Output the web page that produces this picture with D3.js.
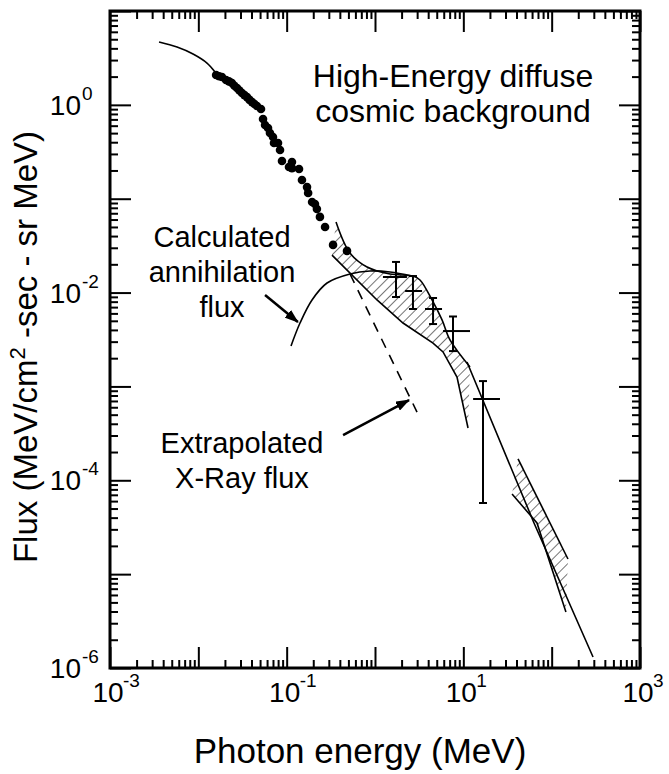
<!DOCTYPE html>
<html>
<head>
<meta charset="utf-8">
<script src="https://cdn.jsdelivr.net/npm/d3@7"></script>
<style>
  body { margin: 0; background: #fff; }
  text { font-family: "Liberation Sans", Arial, Helvetica, sans-serif; fill: #000; }
</style>
</head>
<body>
<svg id="chart"></svg>
<script>
// photon energy in MeV, flux in MeV/cm2-sec-sr MeV
const yLabelExps = [0, -2, -4, -6];
const xLabelExps = [-3, -1, 1, 3];

const lowEnergyCurve = [[0.00359, 4.68], [0.00574, 4.13], [0.00871, 3.48], [0.01253, 2.79], [0.01545, 2.24]];

const backgroundDots = [
  [0.0159, 2.08], [0.0172, 2.02], [0.0185, 1.98], [0.0206, 1.84], [0.0222, 1.78], [0.0240, 1.71],
  [0.0256, 1.60], [0.0274, 1.51], [0.0292, 1.42], [0.0312, 1.34], [0.0333, 1.27], [0.0356, 1.21],
  [0.0380, 1.13], [0.0406, 1.07], [0.0432, 1.02], [0.0461, 0.973], [0.0512, 0.904],
  [0.0540, 0.706], [0.0569, 0.609], [0.0615, 0.566], [0.0647, 0.501], [0.0700, 0.454],
  [0.0719, 0.393], [0.0798, 0.393], [0.0841, 0.330], [0.0885, 0.252], [0.1148, 0.246],
  [0.1062, 0.218], [0.1148, 0.212], [0.138, 0.207], [0.149, 0.158], [0.170, 0.133],
  [0.175, 0.115], [0.194, 0.0923], [0.209, 0.0879], [0.220, 0.0778], [0.238, 0.0640],
  [0.272, 0.0500], [0.335, 0.0322], [0.482, 0.0278]
];

const annihilationCurve = [
  [0.112, 0.00270], [0.1416, 0.00474], [0.1936, 0.00834], [0.2864, 0.01265],
  [0.521, 0.01578], [0.877, 0.01698], [1.479, 0.01656], [2.62, 0.0150]
];

const xrayExtrapolation = [[0.521, 0.01578], [2.99, 5.33e-4]];

const bandUpper = [
  [0.362, 0.0565], [0.521, 0.02636], [0.813, 0.01871], [1.479, 0.01578], [2.69, 0.0150],
  [3.23, 0.01362], [4.42, 0.00834], [5.74, 0.00511], [7.06, 0.00313], [11.9, 0.00161]
];
const bandLower = [
  [0.326, 0.0251], [1.054, 0.00834], [2.076, 0.00474], [4.54, 0.00290], [5.89, 0.00233],
  [8.48, 0.00126], [11.3, 0.000361]
];

const highBandA = [[41.6, 1.69e-4], [153, 1.45e-5]];
const highBandC = [[35.6, 7.14e-5], [68.2, 3.51e-5], [145, 3.95e-6]];

const powerLaw = [[11.0, 0.00182], [63.1, 3.51e-5], [294, 1.31e-6]];

const errX = [1.73, 2.69, 4.54, 7.64, 16.7];
const errXLow = [1.23, 2.19, 3.68, 5.89, 12.9];
const errXHigh = [2.30, 3.41, 5.74, 11.9, 26.0];
const errY = [0.01466, 0.0104, 0.00668, 0.00389, 7.35e-4];
const errYLow = [0.00897, 0.00668, 0.00462, 0.00238, 5.73e-5];
const errYHigh = [0.0212, 0.0150, 0.00875, 0.00556, 1.14e-3];

const W = 669, H = 774;
const margin = { top: 11, right: 29, bottom: 106, left: 110 };
const width = W - margin.left - margin.right;
const height = H - margin.top - margin.bottom;

const svg = d3.select("#chart").attr("width", W).attr("height", H);

const defs = svg.append("defs");
defs.append("pattern")
  .attr("id", "hatch")
  .attr("patternUnits", "userSpaceOnUse")
  .attr("width", 7)
  .attr("height", 7)
  .attr("patternTransform", "rotate(45)")
  .append("line")
  .attr("x1", 0).attr("y1", 0).attr("x2", 0).attr("y2", 7)
  .attr("stroke", "#000").attr("stroke-width", 1.1);

defs.append("marker")
  .attr("id", "arrow")
  .attr("markerUnits", "userSpaceOnUse")
  .attr("viewBox", "0 0 14 10")
  .attr("markerWidth", 14)
  .attr("markerHeight", 10)
  .attr("refX", 13)
  .attr("refY", 5)
  .attr("orient", "auto")
  .append("path")
  .attr("d", "M0,0 L14,5 L0,10 Z")
  .attr("fill", "#000");

const g = svg.append("g").attr("transform", `translate(${margin.left},${margin.top})`);

const x = d3.scaleLog().domain([1e-3, 1e3]).range([0, width]);
const y = d3.scaleLog().domain([1e-6, 10]).range([height, 0]);

const isPow10 = (d) => Math.abs(Math.log10(d) - Math.round(Math.log10(d))) < 1e-9;
const xMajor = x.ticks().filter(isPow10);
const xMinor = x.ticks().filter((d) => !isPow10(d));
const yMajor = y.ticks().filter(isPow10);
const yMinor = y.ticks().filter((d) => !isPow10(d));

// ticks point inward on all four sides
function tickGroup(axis, transform) {
  const a = g.append("g").attr("transform", transform).call(axis);
  a.select(".domain").remove();
  a.selectAll(".tick line").attr("stroke", "#000").attr("stroke-width", 2);
  return a;
}
const minorLen = 8, majorLen = 21;
tickGroup(d3.axisBottom(x).tickValues(xMinor).tickSize(-minorLen).tickFormat(""), `translate(0,${height})`);
tickGroup(d3.axisBottom(x).tickValues(xMajor).tickSize(-majorLen).tickFormat(""), `translate(0,${height})`);
tickGroup(d3.axisTop(x).tickValues(xMinor).tickSize(-minorLen).tickFormat(""), "translate(0,0)");
tickGroup(d3.axisTop(x).tickValues(xMajor).tickSize(-majorLen).tickFormat(""), "translate(0,0)");
tickGroup(d3.axisLeft(y).tickValues(yMinor).tickSize(-minorLen).tickFormat(""), "translate(0,0)");
tickGroup(d3.axisLeft(y).tickValues(yMajor).tickSize(-majorLen).tickFormat(""), "translate(0,0)");
tickGroup(d3.axisRight(y).tickValues(yMinor).tickSize(-minorLen).tickFormat(""), `translate(${width},0)`);
tickGroup(d3.axisRight(y).tickValues(yMajor).tickSize(-majorLen).tickFormat(""), `translate(${width},0)`);

g.append("rect")
  .attr("width", width)
  .attr("height", height)
  .attr("fill", "none")
  .attr("stroke", "#000")
  .attr("stroke-width", 3);

// tick labels with superscript exponents
yLabelExps.forEach((e) => {
  const py = y(Math.pow(10, e));
  g.append("text").attr("x", -29).attr("y", py + 10)
    .attr("text-anchor", "end").style("font-size", "28px").text("10");
  g.append("text").attr("x", -28).attr("y", py - 5)
    .style("font-size", "19px").text(e);
});
xLabelExps.forEach((e) => {
  const px = x(Math.pow(10, e));
  g.append("text").attr("x", px - 2).attr("y", height + 34)
    .attr("text-anchor", "middle").style("font-size", "28px").text("10");
  g.append("text").attr("x", px + 13).attr("y", height + 19)
    .style("font-size", "19px").text(e);
});

// axis titles
svg.append("text")
  .attr("x", 360)
  .attr("y", 763)
  .attr("text-anchor", "middle")
  .style("font-size", "35px")
  .text("Photon energy (MeV)");

const yTitle = svg.append("text")
  .attr("transform", "translate(37,347) rotate(-90)")
  .attr("text-anchor", "middle")
  .style("font-size", "33px");
yTitle.append("tspan").text("Flux (MeV/cm");
yTitle.append("tspan").attr("dy", -12).style("font-size", "22px").text("2");
yTitle.append("tspan").attr("dy", 12).text(" -sec - sr MeV)");

const line = d3.line().x((d) => x(d[0])).y((d) => y(d[1]));
const smooth = d3.line().x((d) => x(d[0])).y((d) => y(d[1])).curve(d3.curveCatmullRom);

// hatched uncertainty bands
const bandPath = smooth(bandUpper) + "L" + line(bandLower.slice().reverse()).slice(1) + "Z";
g.append("path").attr("d", bandPath).attr("fill", "url(#hatch)").attr("stroke", "none");
g.append("path").attr("d", line(highBandA.concat(highBandC.slice().reverse())) + "Z")
  .attr("fill", "url(#hatch)").attr("stroke", "none");

const strokes = [
  smooth(bandUpper), line(bandLower), line(highBandA), line(highBandC),
  line(powerLaw), smooth(lowEnergyCurve), smooth(annihilationCurve)
];
g.selectAll(".curve")
  .data(strokes)
  .join("path")
  .attr("class", "curve")
  .attr("d", (d) => d)
  .attr("fill", "none")
  .attr("stroke", "#000")
  .attr("stroke-width", 1.6);

g.append("path")
  .attr("d", line(xrayExtrapolation))
  .attr("fill", "none")
  .attr("stroke", "#000")
  .attr("stroke-width", 1.6)
  .attr("stroke-dasharray", "10,8");

g.selectAll(".dot")
  .data(backgroundDots)
  .join("circle")
  .attr("class", "dot")
  .attr("cx", (d) => x(d[0]))
  .attr("cy", (d) => y(d[1]))
  .attr("r", 4.3)
  .attr("fill", "#000");

// error bar crosses
const errs = errX.map((v, i) => ({ x: v, xl: errXLow[i], xh: errXHigh[i], y: errY[i], yl: errYLow[i], yh: errYHigh[i] }));
const eb = g.selectAll(".err").data(errs).join("g").attr("class", "err")
  .attr("stroke", "#000").attr("stroke-width", 2);
eb.append("line").attr("x1", (d) => x(d.x)).attr("x2", (d) => x(d.x))
  .attr("y1", (d) => y(d.yl)).attr("y2", (d) => y(d.yh));
eb.append("line").attr("x1", (d) => x(d.xl)).attr("x2", (d) => x(d.xh))
  .attr("y1", (d) => y(d.y)).attr("y2", (d) => y(d.y));
eb.append("line").attr("x1", (d) => x(d.x) - 4).attr("x2", (d) => x(d.x) + 4)
  .attr("y1", (d) => y(d.yl)).attr("y2", (d) => y(d.yl));
eb.append("line").attr("x1", (d) => x(d.x) - 4).attr("x2", (d) => x(d.x) + 4)
  .attr("y1", (d) => y(d.yh)).attr("y2", (d) => y(d.yh));

// annotation arrows
[[[0.0569, 0.00942], [0.134, 0.00485]], [[0.435, 3.03e-4], [2.43, 7.16e-4]]].forEach((a) => {
  g.append("path").attr("d", line(a))
    .attr("stroke", "#000").attr("stroke-width", 2.5)
    .attr("marker-end", "url(#arrow)");
});

function note(lines, cx, baseY, size) {
  const t = svg.append("text").attr("text-anchor", "middle").style("font-size", size + "px");
  lines.forEach((s, i) => {
    t.append("tspan").attr("x", cx).attr("y", baseY + i * 35).text(s);
  });
}
note(["High-Energy diffuse", "cosmic background"], 453, 87, 32);
note(["Calculated", "annihilation", "flux"], 222, 247, 29);
note(["Extrapolated", "X-Ray flux"], 242, 453, 29);
</script>
</body>
</html>
